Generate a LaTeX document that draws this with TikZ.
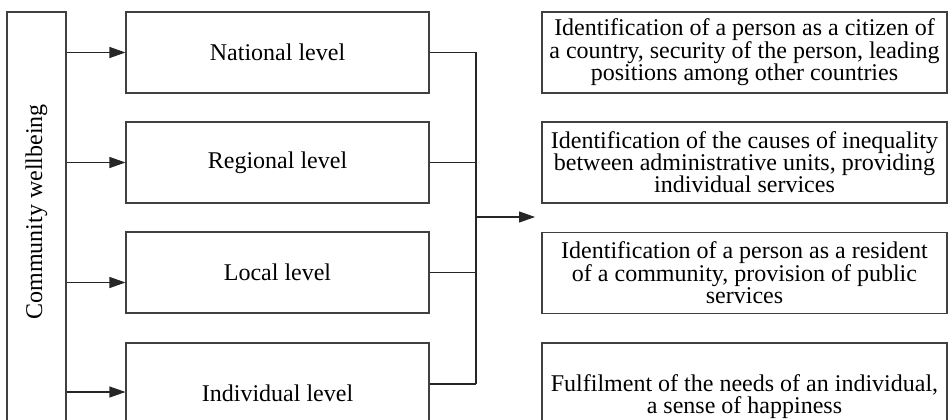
\documentclass[tikz,border=0pt]{standalone}
\usepackage{fontspec}
\setmainfont{Liberation Serif}
\usetikzlibrary{arrows.meta,calc}
\begin{document}
\begin{tikzpicture}[x=1pt,y=-1pt,
  box/.style={draw=black!75,line width=1.1pt,inner sep=0pt,align=center,
    font=\fontsize{24}{22}\selectfont},
  lvl/.style={box,minimum width=303pt,minimum height=81pt},
  desc/.style={box,minimum width=405pt,minimum height=81pt},
  conn/.style={draw=black!85,line width=1.1pt},
  arr/.style={conn,-{Triangle[length=16pt,width=11pt]}}]
\useasboundingbox (0,0) rectangle (948,420);
\clip (0,0) rectangle (948,420);
% left tall box
\node[draw=black!75,line width=1.1pt,minimum width=59pt,minimum height=430pt,inner sep=0pt] (cw) at (36.5,227) {};
\node[rotate=90,font=\fontsize{24}{22}\selectfont,inner sep=0pt] (cwt) at (36.5,212) {Community wellbeing};
% level boxes
\node[lvl] (n1) at (277.5,52.5) {National level};
\node[lvl] (n2) at (277.5,162.5) {Regional level};
\node[lvl] (n3) at (277.5,272.5) {Local level};
\node[lvl,minimum height=100pt] (n4) at (277.5,393) {Individual level};
% description boxes
\node[desc] (d1) at (744.5,52.5) {Identification of a person as a citizen of\\a country, security of the person, leading\\positions among other countries};
\node[desc] (d2) at (744.5,162.5) {Identification of the causes of inequality\\between administrative units, providing\\individual services};
\node[desc] (d3) at (744.5,273) {Identification of a person as a resident\\of a community, provision of public\\services};
\node[desc,minimum height=108pt] (d4) at (744.5,397) {Fulfilment of the needs of an individual,\\a sense of happiness};
% arrows from left box
\draw[arr] (cw.east |- n1.west) -- (n1.west);
\draw[arr] (cw.east |- n2.west) -- (n2.west);
\draw[arr] ($(cw.east |- n3.west)+(0,10)$) -- ($(n3.west)+(0,10)$);
\draw[arr] ($(cw.east |- n4.west)+(0,-1)$) -- ($(n4.west)+(0,-1)$);
% bracket
\coordinate (j) at (476,217);
\coordinate (tgt) at (535,217);
\draw[conn] (n1.east) -- (n1.east -| j);
\draw[conn] (n2.east) -- (n2.east -| j);
\draw[conn] (n3.east) -- (n3.east -| j);
\draw[conn] ($(n4.east)+(0,-9)$) -- ($(n4.east -| j)+(0,-9)$);
\draw[conn] (n1.east -| j) -- ($(n4.east -| j)+(0,-9)$);
\draw[arr] (j) -- (tgt);
\end{tikzpicture}
\end{document}
